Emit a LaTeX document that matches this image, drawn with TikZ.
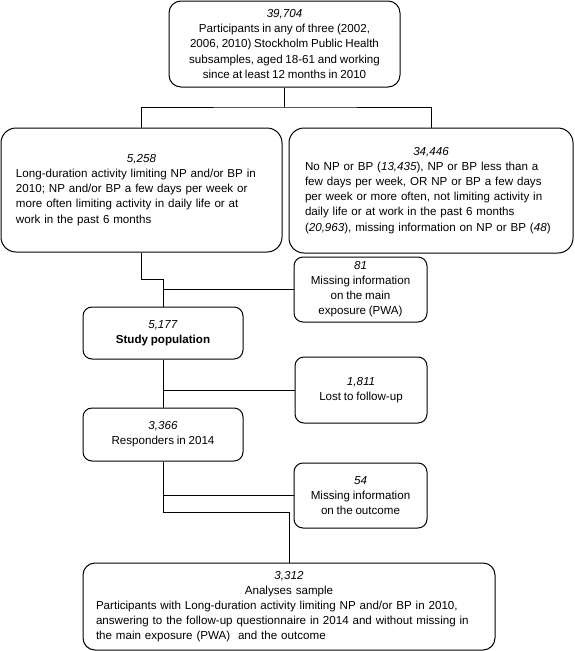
\documentclass[tikz,border=0pt]{standalone}
\usepackage{fontspec}
\setmainfont{Liberation Sans}[WordSpace=0.85]
\begin{document}
\begin{tikzpicture}[x=1pt,y=-1pt,
  font=\fontsize{11.6}{15.1}\selectfont,
  line width=1pt,
  box/.style={draw, rounded corners=#1, inner sep=0pt},
  cbox/.style={box=#1, align=center},
  lbox/.style={box=#1, align=left}]
\useasboundingbox (0,0) rectangle (574,651);

\node[cbox=12pt, minimum width=231pt, minimum height=86pt] (top) at (284.5,44)
  {\textit{39,704}\\Participants in any of three (2002,\\2006, 2010) Stockholm Public Health\\subsamples, aged 18-61 and working\\since at least 12 months in 2010};

\node[lbox=15pt, minimum width=281pt, minimum height=124pt, text width=251pt, inner xsep=15pt] (left) at (141.5,190)
  {\makebox[\linewidth]{\textit{5,258}}\\
   \mbox{Long-duration activity limiting NP and/or BP in}\\
   \mbox{2010; NP and/or BP a few days per week or}\\
   \mbox{more often limiting activity in daily life or at}\\
   \mbox{work in the past 6 months}};

\node[lbox=15pt, minimum width=284pt, minimum height=125pt, text width=252pt, inner xsep=16pt] (right) at (431,190.5)
  {\makebox[\linewidth]{\textit{34,446}}\\
   \mbox{No NP or BP (\textit{13,435}), NP or BP less than a}\\
   \mbox{few days per week, OR NP or BP a few days}\\
   \mbox{per week or more often, not limiting activity in}\\
   \mbox{daily life or at work in the past 6 months}\\
   \mbox{(\textit{20,963}), missing information on NP or BP (\textit{48})}};

\node[cbox=9pt, minimum width=133pt, minimum height=65pt] (m81) at (360.5,289.5)
  {\textit{81}\\Missing information\\on the main\\exposure (PWA)};

\node[cbox=9pt, minimum width=160pt, minimum height=52pt] (study) at (163,333)
  {\textit{5,177}\\\textbf{Study population}};

\node[cbox=9pt, minimum width=132pt, minimum height=66pt] (m1811) at (361,390)
  {\textit{1,811}\\Lost to follow-up};

\node[cbox=9pt, minimum width=160pt, minimum height=53pt] (resp) at (163,434.5)
  {\textit{3,366}\\Responders in 2014};

\node[cbox=9pt, minimum width=133pt, minimum height=65pt] (m54) at (360.5,495.5)
  {\textit{54}\\Missing information\\on the outcome};

\node[lbox=12pt, minimum width=412pt, minimum height=87pt, text width=386pt, inner xsep=13pt] (ana) at (289,606.5)
  {\makebox[\linewidth]{\textit{3,312}}\\
   \makebox[\linewidth]{Analyses sample}\\
   \mbox{Participants with Long-duration activity limiting NP and/or BP in 2010,}\\
   \mbox{answering to the follow-up questionnaire in 2014 and without missing in}\\
   \mbox{the main exposure (PWA) \ and the outcome}};

\coordinate (j1) at (284.5,107);
\draw (top.south) -- (j1);
\draw (left.north) |- (j1) -| (right.north);
\draw (left.south) -- ++(0,27) coordinate (j2) -| (study.north);
\draw (study.north |- m81.west) -- (m81.west);
\draw (study.south) -- (resp.north);
\draw (study.south |- m1811.west) -- (m1811.west);
\draw (resp.south) -- ++(0,51) coordinate (j3) -| (ana.north);
\draw (resp.south |- m54.west) -- (m54.west);
\end{tikzpicture}
\end{document}
